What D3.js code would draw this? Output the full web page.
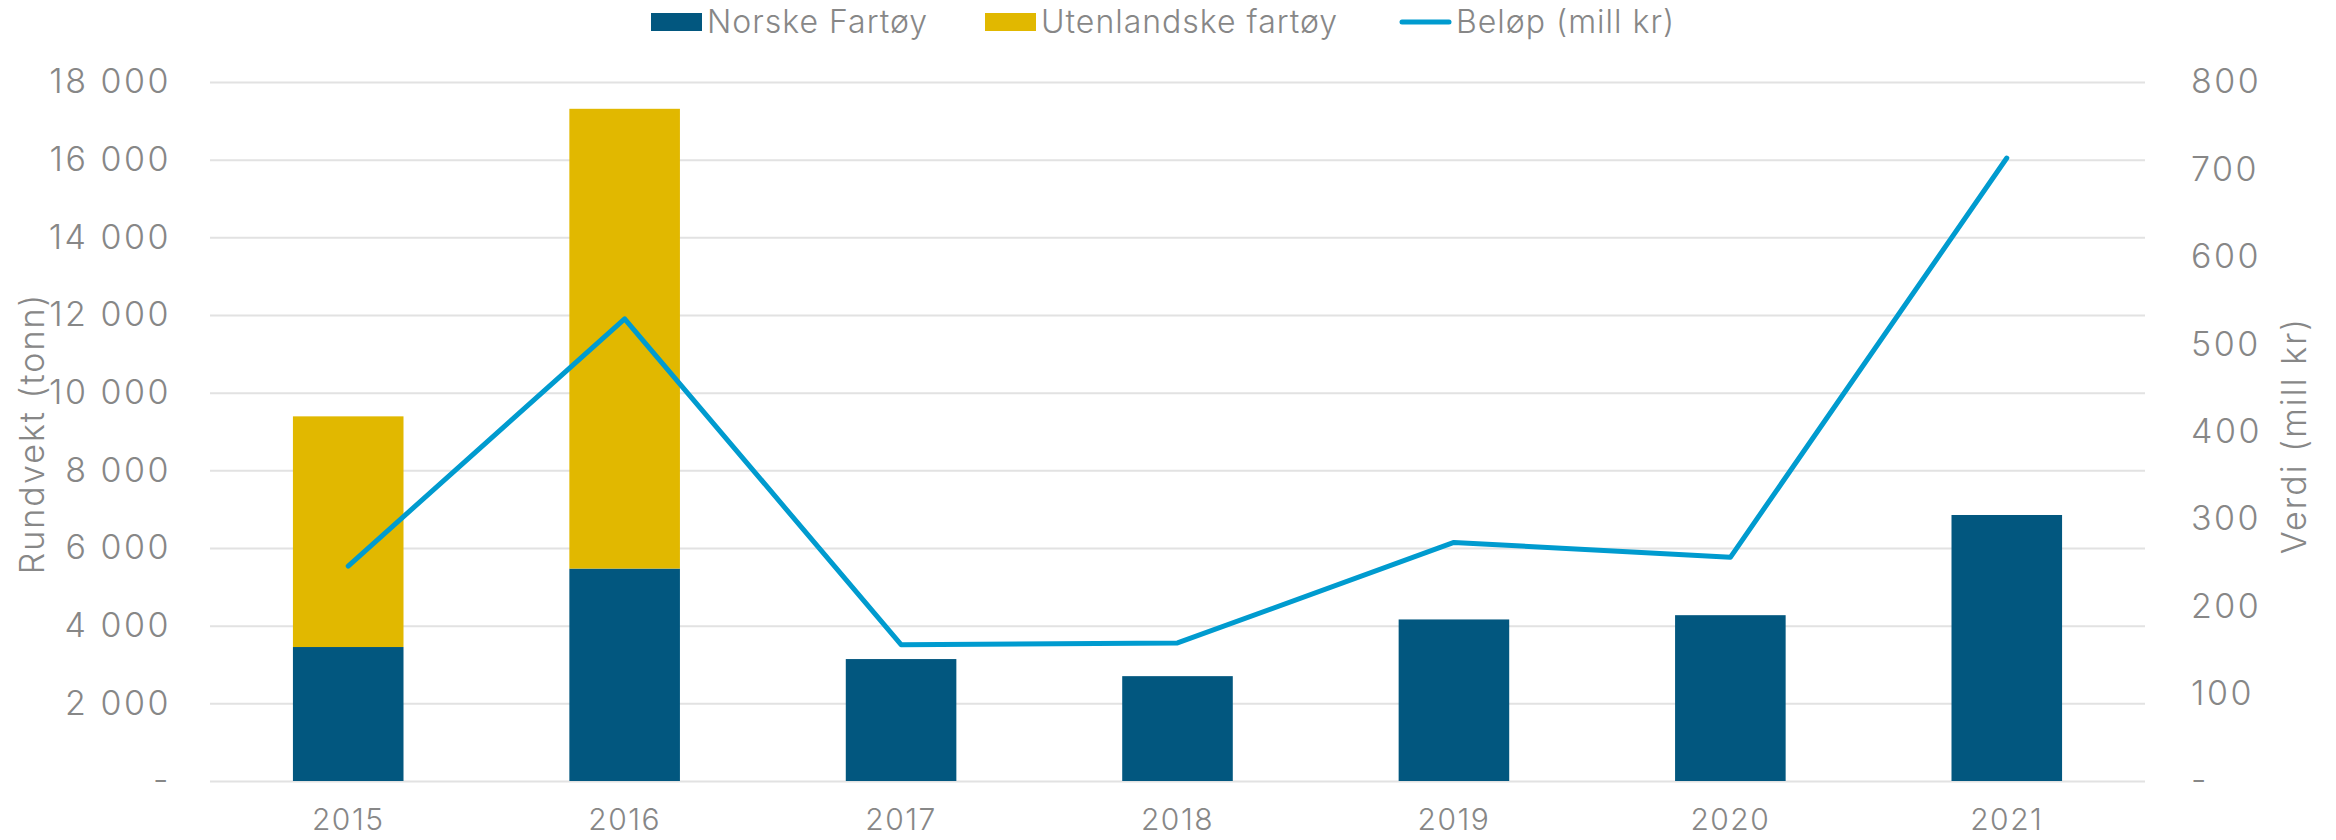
<!DOCTYPE html>
<html>
<head>
<meta charset="utf-8">
<script src="https://cdn.jsdelivr.net/npm/d3@7"></script>
<style>
  body { margin: 0; background: #fff; }
  svg text { font-family: Inter, "Open Sans", sans-serif; font-weight: 300; fill: #878787; }
</style>
</head>
<body>
<div id="chart"></div>
<script>
// chart data
const years = ["2015", "2016", "2017", "2018", "2019", "2020", "2021"];
const norske = [3450, 5470, 3140, 2700, 4160, 4270, 6850];          // tonn
const utenlandske = [5940, 11840, 0, 0, 0, 0, 0];                    // tonn
const belop = [246, 529, 156, 158, 273, 256, 713];                   // mill kr
const leftTicks = [0, 2000, 4000, 6000, 8000, 10000, 12000, 14000, 16000, 18000];
const rightTicks = [0, 100, 200, 300, 400, 500, 600, 700, 800];

const width = 2336, height = 840;
const margin = {top: 82, right: 191, bottom: 59, left: 210};

const svg = d3.select("#chart")
    .append("svg")
        .attr("width", width)
        .attr("height", height);

const x = d3.scaleBand()
    .domain(years)
    .range([margin.left, width - margin.right])
    .paddingInner(0.6)
    .paddingOuter(0.3);

const yLeft = d3.scaleLinear()
    .domain([0, 18000])
    .range([height - margin.bottom, margin.top]);

const yRight = d3.scaleLinear()
    .domain([0, 800])
    .range([height - margin.bottom, margin.top]);

// thousands separated by a space, zero shown as a dash
const fmt = (v) => v === 0 ? "-" : d3.format(",")(v).replace(/,/g, " ");

// gridlines
svg.append("g")
    .attr("id", "grid")
    .selectAll("line")
        .data(leftTicks)
    .enter()
        .append("line")
        .attr("x1", margin.left)
        .attr("x2", width - margin.right)
        .attr("y1", (d) => yLeft(d) + 0.5)
        .attr("y2", (d) => yLeft(d) + 0.5)
        .attr("stroke", "#e2e2e2")
        .attr("stroke-width", 2);

// stacked bars
const stackData = years.map((yr, i) => ({year: yr, norske: norske[i], utenlandske: utenlandske[i]}));
const series = d3.stack().keys(["norske", "utenlandske"])(stackData);
const colors = {norske: "#02577f", utenlandske: "#e1b800"};

svg.append("g")
    .attr("id", "bars")
    .selectAll("g")
        .data(series)
    .enter()
        .append("g")
        .attr("fill", (s) => colors[s.key])
    .selectAll("rect")
        .data((s) => s.filter((d) => d[1] - d[0] > 0))
    .enter()
        .append("rect")
        .attr("x", (d) => x(d.data.year))
        .attr("width", x.bandwidth())
        .attr("y", (d) => yLeft(d[1]))
        .attr("height", (d) => yLeft(d[0]) - yLeft(d[1]));

// value line on the right axis
const line = d3.line()
    .x((d, i) => x(years[i]) + x.bandwidth() / 2)
    .y((d) => yRight(d));

svg.append("path")
    .datum(belop)
    .attr("d", line)
    .attr("fill", "none")
    .attr("stroke", "#009bcf")
    .attr("stroke-width", 5)
    .attr("stroke-linecap", "round")
    .attr("stroke-linejoin", "round");

// axes
const axisLeft = d3.axisLeft(yLeft)
    .tickValues(leftTicks)
    .tickFormat(fmt)
    .tickSize(0)
    .tickPadding(39);
const gl = svg.append("g")
    .attr("transform", `translate(${margin.left},0)`)
    .call(axisLeft);

const axisRight = d3.axisRight(yRight)
    .tickValues(rightTicks)
    .tickFormat(fmt)
    .tickSize(0)
    .tickPadding(46);
const gr = svg.append("g")
    .attr("transform", `translate(${width - margin.right},0)`)
    .call(axisRight);

const axisBottom = d3.axisBottom(x)
    .tickSize(0)
    .tickPadding(28);
const gb = svg.append("g")
    .attr("transform", `translate(0,${height - margin.bottom})`)
    .call(axisBottom);

for (const g of [gl, gr]) {
    g.select(".domain").remove();
    g.selectAll("text")
        .attr("fill", null)
        .style("font-size", "34px")
        .style("letter-spacing", "2.5px");
}
gb.select(".domain").remove();
gb.selectAll("text")
    .attr("fill", null)
    .style("font-size", "30px")
    .style("letter-spacing", "1.5px");

// axis titles
svg.append("text")
    .attr("transform", `translate(32,${(margin.top + height - margin.bottom) / 2 + 2}) rotate(-90)`)
    .attr("text-anchor", "middle")
    .attr("dy", "0.35em")
    .style("font-size", "34px")
    .style("letter-spacing", "2px")
    .text("Rundvekt (tonn)");

svg.append("text")
    .attr("transform", `translate(2294,${(margin.top + height - margin.bottom) / 2 + 4}) rotate(-90)`)
    .attr("text-anchor", "middle")
    .attr("dy", "0.35em")
    .style("font-size", "34px")
    .style("letter-spacing", "2px")
    .text("Verdi (mill kr)");

// legend
const legendItems = [
    {label: "Norske Fartøy", color: colors.norske, type: "rect", x: 651},
    {label: "Utenlandske fartøy", color: colors.utenlandske, type: "rect", x: 985},
    {label: "Beløp (mill kr)", color: "#009bcf", type: "line", x: 1400}
];
const legend = svg.append("g")
    .attr("id", "legend")
    .selectAll("g")
        .data(legendItems)
    .enter()
        .append("g")
        .attr("transform", (d) => `translate(${d.x},22)`);

legend.filter((d) => d.type === "rect")
    .append("rect")
        .attr("x", 0)
        .attr("y", -9)
        .attr("width", 51)
        .attr("height", 18)
        .attr("fill", (d) => d.color);

legend.filter((d) => d.type === "line")
    .append("line")
        .attr("x1", 2)
        .attr("x2", 49)
        .attr("stroke", (d) => d.color)
        .attr("stroke-width", 5)
        .attr("stroke-linecap", "round");

legend.append("text")
    .attr("x", 56)
    .attr("dy", "0.35em")
    .style("font-size", "32px")
    .style("letter-spacing", "1px")
    .text((d) => d.label);
</script>
</body>
</html>
